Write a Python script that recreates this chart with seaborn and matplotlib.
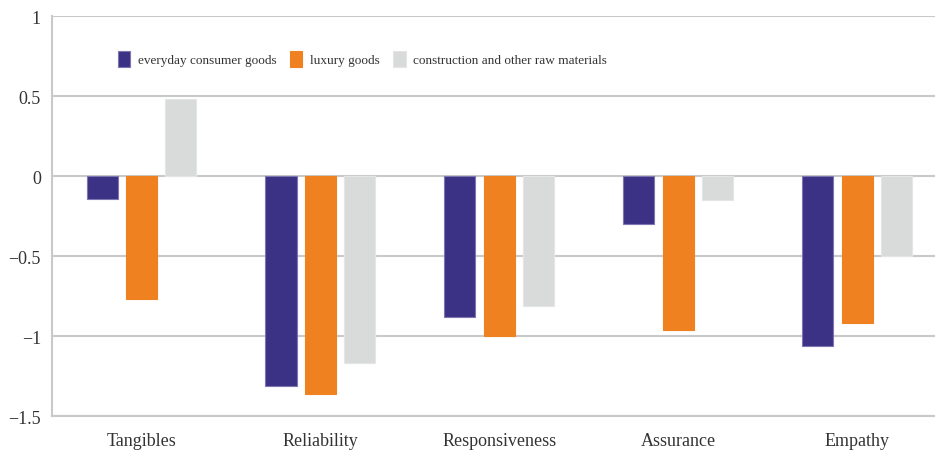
import matplotlib
matplotlib.use('Agg')
import matplotlib.pyplot as plt
import pandas as pd
import seaborn as sns

categories = ['Tangibles', 'Reliability', 'Responsiveness', 'Assurance', 'Empathy']
series_names = ['everyday consumer goods', 'luxury goods', 'construction and other raw materials']
everyday = [-0.14, -1.31, -0.88, -0.30, -1.06]
luxury = [-0.77, -1.36, -1.00, -0.96, -0.92]
construction = [0.48, -1.17, -0.81, -0.15, -0.50]
colors = ['#3b3285', '#ef8120', '#d9dbdb']
edges = ['#7d76b3', '#ef8120', '#e4e5e5']

df = pd.DataFrame({
    'dimension': categories * 3,
    'value': everyday + luxury + construction,
    'group': [series_names[0]] * 5 + [series_names[1]] * 5 + [series_names[2]] * 5,
})

sns.set_style('white')
plt.rcParams['font.family'] = ['Liberation Serif', 'DejaVu Serif']
text_color = '#333333'
grid_color = '#c9c9c9'

fig = plt.figure(figsize=(9.35, 4.52), dpi=100)
# axes run a little past the right edge of the figure, as in the reference
ax = fig.add_axes([52 / 935, 0.0768, (946.5 - 52) / 935, 0.885])

sns.barplot(data=df, x='dimension', y='value', hue='group', order=categories,
            hue_order=series_names, palette=colors, width=0.66, gap=0.21,
            saturation=1, ax=ax, legend=True, zorder=3)

rgb = [matplotlib.colors.to_rgb(c) for c in colors]
for p in ax.patches:
    fc = tuple(p.get_facecolor()[:3])
    for c, e in zip(rgb, edges):
        if all(abs(a - b) < 1e-3 for a, b in zip(fc, c)):
            p.set_edgecolor(e)
            p.set_linewidth(0.8)

ax.set_xlim(-0.5, 4.5)
ax.set_ylim(-1.5, 1)
ax.set_yticks([-1.5, -1, -0.5, 0, 0.5, 1])
ax.set_yticklabels(['\u22121.5', '\u22121', '\u22120.5', '0', '0.5', '1'])
ax.yaxis.grid(True, color=grid_color, linewidth=1.5, zorder=0)
ax.set_axisbelow(True)
for s in ['top', 'right']:
    ax.spines[s].set_visible(False)
for s in ['left', 'bottom']:
    ax.spines[s].set_color(grid_color)
    ax.spines[s].set_linewidth(1.5)
ax.tick_params(axis='both', length=0, labelsize=13, colors=text_color)
ax.tick_params(axis='y', pad=8)
ax.tick_params(axis='x', pad=11)
ax.set_xlabel('')
ax.set_ylabel('')

ax.legend(loc='center left', bbox_to_anchor=(0.060, 0.893), ncol=3, frameon=False,
          fontsize=9.5, handlelength=0.98, handleheight=1.45, handletextpad=0.55,
          columnspacing=1.0, labelcolor=text_color)

fig.savefig('out.png', dpi=100)
